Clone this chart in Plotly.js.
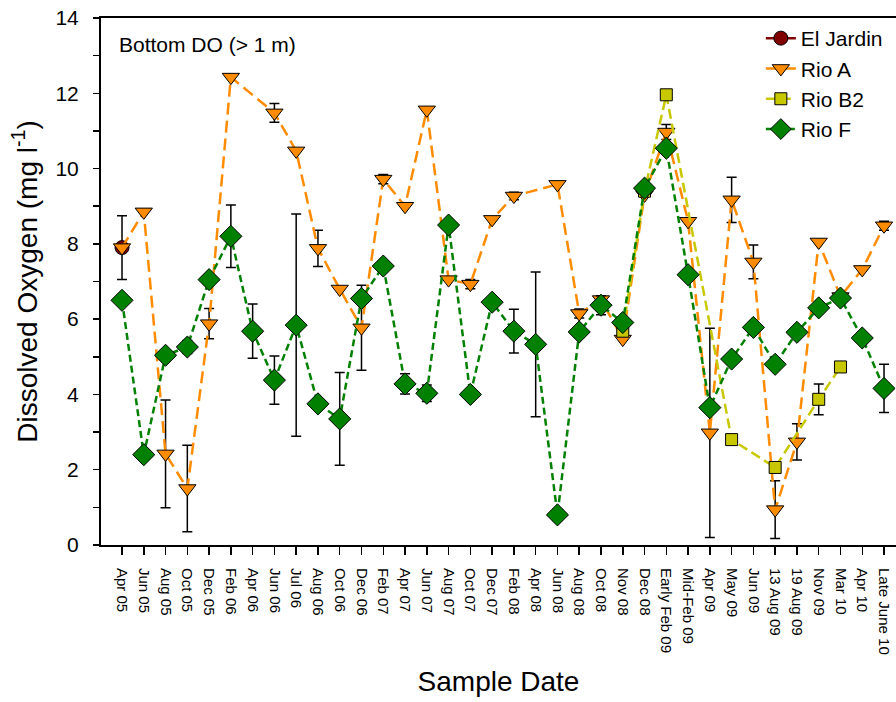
<!DOCTYPE html>
<html>
<head>
<meta charset="utf-8">
<script src="https://cdn.plot.ly/plotly-3.0.1.min.js"></script>
<style>html,body{margin:0;padding:0;background:#fff;}#chart{width:896px;height:702px;}</style>
</head>
<body>
<div id="chart"></div>
<script>
const categories = ["Apr 05","Jun 05","Aug 05","Oct 05","Dec 05","Feb 06","Apr 06","Jun 06","Jul 06","Aug 06","Oct 06","Dec 06","Feb 07","Apr 07","Jun 07","Aug 07","Oct 07","Dec 07","Feb 08","Apr 08","Jun 08","Aug 08","Oct 08","Nov 08","Dec 08","Early Feb 09","Mid-Feb 09","Apr 09","May 09","Jun 09","13 Aug 09","19 Aug 09","Nov 09","Mar 10","Apr 10","Late June 10"];

const elJardin    = [7.9,null,null,null,null,null,null,null,null,null,null,null,null,null,null,null,null,null,null,null,null,null,null,null,null,null,null,null,null,null,null,null,null,null,null,null];
const elJardinErr = [0.85,0,0,0,0,0,0,0,0,0,0,0,0,0,0,0,0,0,0,0,0,0,0,0,0,0,0,0,0,0,0,0,0,0,0,0];

const rioA    = [7.9,8.85,2.42,1.5,5.88,12.43,null,11.48,10.47,7.88,6.8,5.77,9.72,9.0,11.56,7.05,6.93,8.65,9.27,null,9.58,6.15,6.52,5.47,9.3,10.97,8.6,2.98,9.17,7.52,0.94,2.74,8.05,6.6,7.32,8.48];
const rioAErr = [0,0,1.43,1.15,0.4,0,0,0.25,0,0.48,0,1.13,0.12,0,0,0,0.12,0,0.1,0,0,0.12,0,0,0,0.2,0,2.78,0.6,0.45,0.77,0.48,0,0.08,0,0.12];

const rioB2    = [null,null,null,null,null,null,null,null,null,null,null,null,null,null,null,null,null,null,null,null,null,null,null,5.68,9.4,11.96,null,null,2.8,null,2.06,null,3.87,4.73,null,null];
const rioB2Err = [0,0,0,0,0,0,0,0,0,0,0,0,0,0,0,0,0,0,0,0,0,0,0,0,0,0,0,0,0,0,0,0,0.41,0,0,0];

const rioF    = [6.5,2.4,5.04,5.26,7.05,8.2,5.68,4.38,5.84,3.75,3.35,6.55,7.41,4.28,4.03,8.5,4.0,6.45,5.68,5.33,0.8,5.66,6.37,5.91,9.48,10.54,7.18,3.65,4.94,5.78,4.8,5.65,6.3,6.56,5.5,4.16];
const rioFErr = [0,0,0,0.17,0,0.83,0.72,0.64,2.95,0,1.23,0,0,0.27,0.22,0,0,0,0.58,1.92,0.15,0,0.25,0,0,0,0,0,0,0,0,0,0,0,0,0.64];

const yTickVals = [0,2,4,6,8,10,12,14];

const FONT = "Arial, 'Liberation Sans', sans-serif";
function errOf(arr){ return {type:'data', array:arr, visible:true, color:'#000', thickness:1.5, width:5}; }

const traces = [
  {name:'El Jardin', x:categories, y:elJardin, type:'scatter', mode:'lines+markers', connectgaps:true,
   line:{color:'#800000', width:2.5}, marker:{symbol:'circle', size:14, color:'#800000', line:{color:'#000', width:1}},
   error_y:errOf(elJardinErr)},
  {name:'Rio A', x:categories, y:rioA, type:'scatter', mode:'lines+markers', connectgaps:true,
   line:{color:'#FF8C00', width:2.5, dash:'12px,6px'}, marker:{symbol:'triangle-down', size:15, color:'#FF8C00', line:{color:'#000', width:1}},
   error_y:errOf(rioAErr)},
  {name:'Rio B2', x:categories, y:rioB2, type:'scatter', mode:'lines+markers', connectgaps:true,
   line:{color:'#C8C800', width:2.5, dash:'10px,5px'}, marker:{symbol:'square', size:12, color:'#C8C800', line:{color:'#000', width:1}},
   error_y:errOf(rioB2Err)},
  {name:'Rio F', x:categories, y:rioF, type:'scatter', mode:'lines+markers', connectgaps:true,
   line:{color:'#008000', width:2.5, dash:'7px,4px'}, marker:{symbol:'diamond', size:17, color:'#008000', line:{color:'#000', width:1}},
   error_y:errOf(rioFErr)}
];

const layout = {
  width:896, height:702,
  margin:{l:101, r:0, t:18, b:157},
  paper_bgcolor:'#fff', plot_bgcolor:'#fff',
  font:{family:FONT, color:'#000'},
  showlegend:true,
  legend:{x:0.83, y:1.0, xanchor:'left', yanchor:'top', bgcolor:'rgba(0,0,0,0)', font:{size:21, family:FONT}, tracegroupgap:0},
  xaxis:{type:'category', range:[-0.965, 35.55], showgrid:false, zeroline:false,
    showline:true, linecolor:'#000', linewidth:2, mirror:true,
    ticks:'outside', ticklen:8, tickwidth:1.5, tickcolor:'#000', ticklabelstandoff:10,
    tickangle:90, tickfont:{size:15, family:FONT},
    title:{text:'Sample Date', font:{size:28, family:FONT}, standoff:18}},
  yaxis:{range:[0,14], showgrid:false, zeroline:false,
    showline:true, linecolor:'#000', linewidth:2, mirror:false,
    tickmode:'array', tickvals:yTickVals, ticktext:yTickVals.map(String),
    ticks:'outside', ticklen:6, tickwidth:1.5, tickcolor:'#000', ticklabelstandoff:10,
    minor:{dtick:1, ticks:'outside', ticklen:6, tickwidth:1.5, tickcolor:'#000'},
    tickfont:{size:21, family:FONT},
    title:{text:'Dissolved Oxygen (mg l<sup>-1</sup>)', font:{size:28, family:FONT}, standoff:10}},
  annotations:[{text:'Bottom DO (> 1 m)', xref:'paper', yref:'paper', x:0.02, y:0.975, xanchor:'left', yanchor:'top', showarrow:false, font:{size:21, family:FONT}}]
};

Plotly.newPlot('chart', traces, layout, {displayModeBar:false, staticPlot:true});
</script>
</body>
</html>
